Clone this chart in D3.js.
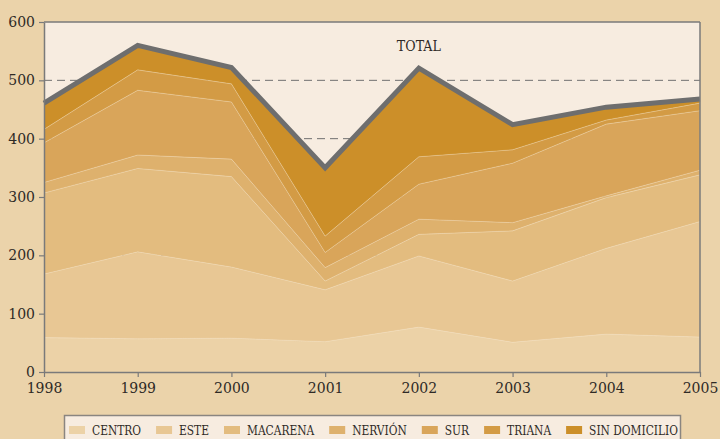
<!DOCTYPE html>
<html>
<head>
<meta charset="utf-8">
<script src="https://cdn.jsdelivr.net/npm/d3@7/dist/d3.min.js"></script>
<style>
  html, body { margin: 0; padding: 0; background: #EBD3AA; }
  svg { display: block; }
</style>
</head>
<body>
<script>
const years = [1998, 1999, 2000, 2001, 2002, 2003, 2004, 2005];
const seriesNames = ["CENTRO", "ESTE", "MACARENA", "NERVIÓN", "SUR", "TRIANA", "SIN DOMICILIO"];
const centro       = [59, 57, 58, 52, 77, 51, 65, 60];
const este         = [109, 149, 122, 89, 122, 105, 147, 198];
const macarena     = [139, 143, 155, 15, 37, 86, 87, 80];
const nervion      = [18, 23, 30, 23, 26, 14, 3, 8];
const sur          = [68, 111, 98, 26, 60, 102, 123, 102];
const triana       = [23, 35, 31, 28, 47, 23, 7, 13];
const sinDomicilio = [45, 42, 28, 117, 152, 43, 22, 7];
const yTicks = [0, 100, 200, 300, 400, 500, 600];
const gridValues = [100, 200, 300, 400, 500];
const totalLabel = "TOTAL";

const colors = ["#ECD2A7", "#E8C794", "#E3BC7F", "#DEB16D", "#D9A55A", "#D39B45", "#CC8F29"];
const seriesValues = [centro, este, macarena, nervion, sur, triana, sinDomicilio];

(function () {
const W = 720, H = 439;
const margin = { top: 22, right: 20, bottom: 67, left: 44 };
const iw = W - margin.left - margin.right;
const ih = H - margin.top - margin.bottom;

const table = years.map((yr, i) => {
  const row = { year: yr };
  seriesNames.forEach((n, k) => row[n] = seriesValues[k][i]);
  return row;
});

const layers = d3.stack().keys(seriesNames)(table);

const x = d3.scaleLinear().domain([years[0], years[years.length - 1]]).range([0, iw]);
const y = d3.scaleLinear().domain([0, 600]).range([ih, 0]);

const svg = d3.select("body").append("svg").attr("width", W).attr("height", H);
svg.append("rect").attr("width", W).attr("height", H).attr("fill", "#EBD3AA");

const g = svg.append("g").attr("transform", `translate(${margin.left},${margin.top})`);

g.append("rect").attr("width", iw).attr("height", ih).attr("fill", "#F7ECE0");

g.selectAll("line.grid").data(gridValues).enter().append("line")
  .attr("class", "grid")
  .attr("x1", 0).attr("x2", iw)
  .attr("y1", d => y(d)).attr("y2", d => y(d))
  .attr("stroke", "#707070").attr("stroke-width", 1)
  .attr("stroke-dasharray", "8,5");

const area = d3.area()
  .x(d => x(d.data.year))
  .y0(d => y(d[0]))
  .y1(d => y(d[1]));

g.selectAll("path.layer").data(layers).enter().append("path")
  .attr("class", "layer")
  .attr("d", area)
  .attr("fill", (d, i) => colors[i])
  .attr("stroke", "#F6E7CF")
  .attr("stroke-opacity", 0.45)
  .attr("stroke-width", 0.6);

const topLayer = layers[layers.length - 1];
const line = d3.line().x(d => x(d.data.year)).y(d => y(d[1]));
g.append("path").datum(topLayer)
  .attr("d", line)
  .attr("fill", "none")
  .attr("stroke", "#6E6E6E")
  .attr("stroke-width", 5)
  .attr("stroke-linejoin", "miter");

g.append("line").attr("x1", 0).attr("x2", iw).attr("y1", 0).attr("y2", 0)
  .attr("stroke", "#7A7A7A").attr("stroke-width", 1.5);
g.append("line").attr("x1", iw).attr("x2", iw).attr("y1", 0).attr("y2", ih)
  .attr("stroke", "#7A7A7A").attr("stroke-width", 1.5);

const fontAxis = "'DejaVu Serif', serif";
const yAxis = d3.axisLeft(y).tickValues(yTicks).tickSize(5).tickSizeOuter(0).tickPadding(4);
const gy = g.append("g").call(yAxis);
gy.select(".domain").attr("stroke", "#7A7A7A").attr("stroke-width", 1.5);
gy.selectAll(".tick line").attr("stroke", "#7A7A7A").attr("stroke-width", 1.2);
gy.selectAll(".tick text").attr("font-family", fontAxis).attr("font-size", 14).attr("fill", "#2E2A26");

const xAxis = d3.axisBottom(x).tickValues(years).tickFormat(d3.format("d")).tickSize(5).tickSizeOuter(0).tickPadding(6);
const gx = g.append("g").attr("transform", `translate(0,${ih})`).call(xAxis);
gx.select(".domain").attr("stroke", "#7A7A7A").attr("stroke-width", 1.5);
gx.selectAll(".tick line").attr("stroke", "#7A7A7A").attr("stroke-width", 1.2);
gx.selectAll(".tick text").attr("font-family", fontAxis).attr("font-size", 14).attr("fill", "#2E2A26");

const condensed = "'DejaVu Serif Condensed', 'DejaVu Serif', serif";
g.append("text")
  .attr("x", x(2002))
  .attr("y", y(551))
  .attr("text-anchor", "middle")
  .attr("font-family", condensed)
  .attr("font-stretch", "condensed")
  .attr("font-size", 14)
  .attr("textLength", 44)
  .attr("lengthAdjust", "spacingAndGlyphs")
  .attr("fill", "#2E2A26")
  .text(totalLabel);

const legend = svg.append("g");
legend.append("rect")
  .attr("x", 64.5).attr("y", 415.5).attr("width", 616).attr("height", 30)
  .attr("fill", "#F7ECE0").attr("stroke", "#8A8580").attr("stroke-width", 1.5);

const targetTextTotal = 358;
const tmp = legend.selectAll("text.tmp").data(seriesNames).enter().append("text")
  .attr("font-family", condensed).attr("font-stretch", "condensed").attr("font-size", 13)
  .text(d => d);
const natural = [];
tmp.each(function () { natural.push(this.getComputedTextLength()); });
tmp.remove();
const kk = targetTextTotal / d3.sum(natural);

let lx = 69;
seriesNames.forEach((n, i) => {
  const tw = natural[i] * kk;
  legend.append("rect")
    .attr("x", lx).attr("y", 426).attr("width", 16).attr("height", 8)
    .attr("fill", colors[i]);
  legend.append("text")
    .attr("x", lx + 23).attr("y", 434.5)
    .attr("font-family", condensed).attr("font-stretch", "condensed").attr("font-size", 13)
    .attr("textLength", tw).attr("lengthAdjust", "spacingAndGlyphs")
    .attr("fill", "#2E2A26")
    .text(n);
  lx += 23 + tw + 15;
});
})();
</script>
</body>
</html>
